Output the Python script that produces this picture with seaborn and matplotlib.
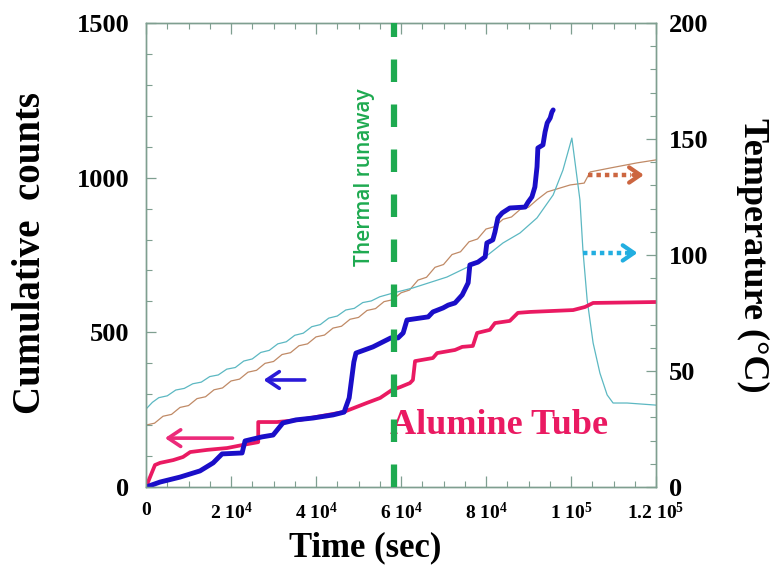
import numpy as np
import pandas as pd
import matplotlib
matplotlib.use("Agg")
import matplotlib.pyplot as plt
import seaborn as sns
from matplotlib.ticker import MultipleLocator

# cumulative counts, sample 1 (blue)
blue_t = [0, 3300, 8000, 12700, 15800, 17900, 22600, 23300, 27300, 29900,
          32200, 35300, 39300, 44000, 46600, 47800, 48900, 49400, 53400, 57600,
          59300, 60500, 61400, 66400, 67500, 69900, 71100, 72700, 74400, 75800,
          76200, 78100, 79800, 80200, 81600, 82100, 82800, 83800, 85600, 89200,
          89900, 90800, 91500, 92000, 92200, 93400, 93900, 94400, 95100, 95500,
          95800]
blue_n = [0, 16, 32, 52, 78, 107, 110, 149, 162, 168,
          207, 217, 223, 233, 242, 288, 404, 433, 453, 482,
          482, 498, 540, 550, 566, 579, 588, 595, 621, 660,
          718, 727, 744, 789, 799, 824, 870, 886, 902, 905,
          921, 938, 970, 1035, 1096, 1106, 1148, 1177, 1193, 1212,
          1219]

# cumulative counts, alumine tube (pink)
pink_t = [0, 940, 2100, 3300, 6400, 8700, 10400, 14400, 19100, 22800, 26400, 26400,
          30800, 36200, 46400, 52000, 55100, 57900, 59800, 62100, 62800, 63300, 67500,
          68500, 72700, 74400, 76900, 77900, 80900, 82100, 85600, 87500, 90400, 100500,
          103300, 105200, 120000]
pink_n = [0, 32, 71, 78, 87, 97, 113, 120, 126, 136, 145, 210,
          210, 217, 242, 272, 288, 314, 323, 336, 346, 407, 417,
          433, 443, 453, 456, 498, 508, 530, 537, 563, 566, 572,
          582, 595, 598]

# temperatures (right axis)
brown_t = [0, 2000, 4000, 6000, 8000, 10000, 12000, 14000, 16000, 18000,
           20000, 22000, 24000, 26000, 28000, 30000, 32000, 34000, 36000, 38000,
           40000, 42000, 44000, 46000, 48000, 50000, 52000, 54000, 56000, 58000,
           60000, 62000, 64000, 66000, 68000, 70000, 72000, 74000, 76000, 78000,
           80000, 82000, 84000, 86000, 88000, 90000, 92000, 94400, 99800, 103100,
           104500, 109200, 115500, 120000]
brown_T = [26.7, 27.5, 30.5, 31.3, 34.3, 35.1, 38.1, 38.9, 41.9, 42.7,
           45.7, 46.5, 49.5, 50.3, 53.3, 54.1, 57.1, 57.9, 60.9, 61.7,
           64.7, 65.5, 68.5, 69.3, 72.3, 73.1, 76.1, 76.9, 79.9, 80.7,
           83.7, 84.9, 89.2, 90.4, 94.7, 95.9, 100.2, 101.4, 105.7, 106.9,
           111.2, 112.2, 115.4, 116.4, 119.6, 120.6, 123.8, 127.2, 130.2, 131.0,
           135.8, 137.5, 139.7, 141.0]

cyan_t = [0, 1500, 3000, 5000, 7000, 9000, 11000, 13000, 15000, 17000,
          19000, 21000, 23000, 25000, 27000, 29000, 31000, 33000, 35000, 37000,
          39000, 41000, 43000, 45000, 47000, 49000, 51000, 53000, 55000, 58100,
          62800, 70800, 78600, 84000, 88000, 92000, 95800, 98100, 100200, 102100,
          102800, 103800, 105200, 106800, 108500, 109900, 113200, 120000]
cyan_T = [33.6, 36.5, 38.5, 39.3, 41.8, 42.5, 44.5, 45.2, 47.6, 48.3,
          50.8, 51.5, 54.3, 55.2, 58.0, 58.9, 61.7, 62.6, 65.4, 66.3,
          69.1, 70.0, 72.8, 73.7, 76.3, 77.0, 79.5, 80.2, 82.0, 83.6,
          85.8, 90.5, 97.4, 105.2, 109.5, 116.0, 125.9, 136.6, 150.4, 123.7,
          102.2, 80.6, 62.1, 49.1, 39.7, 36.2, 36.2, 35.3]

runaway_t = 58300
xticks = [0, 20000, 40000, 60000, 80000, 100000, 120000]
xtick_labels = ["0", "2 10$^4$", "4 10$^4$", "6 10$^4$", "8 10$^4$", "1 10$^5$", "1.2 10$^5$"]

sns.set_style("white")
plt.rcParams["font.family"] = ["Liberation Serif", "DejaVu Serif"]
plt.rcParams["font.weight"] = "bold"
plt.rcParams["text.color"] = "black"
plt.rcParams["axes.labelcolor"] = "black"
plt.rcParams["mathtext.fontset"] = "custom"
plt.rcParams["mathtext.rm"] = "Liberation Serif:bold"
plt.rcParams["mathtext.bf"] = "Liberation Serif:bold"
plt.rcParams["mathtext.it"] = "Liberation Serif:bold"
plt.rcParams["mathtext.default"] = "bf"

spine_c = "#7f9f90"

fig = plt.figure(figsize=(7.78, 5.67), dpi=100)
ax = fig.add_axes([0.1877, 0.1411, 0.6555, 0.8183])
ax2 = ax.twinx()

sns.lineplot(x=brown_t, y=brown_T, ax=ax2, color="#c08a66", lw=0.9, estimator=None, sort=False)
sns.lineplot(x=cyan_t, y=cyan_T, ax=ax2, color="#5cb8c2", lw=0.9, estimator=None, sort=False)
sns.lineplot(x=pink_t, y=pink_n, ax=ax, color="#ea1a62", lw=2.7, estimator=None, sort=False)
sns.lineplot(x=blue_t, y=blue_n, ax=ax, color="#1a0ec8", lw=3.5, estimator=None, sort=False)

ax.set_zorder(ax2.get_zorder() + 1)
ax.patch.set_visible(False)

ax.axvline(runaway_t, color="#1eaa50", lw=4.5, dashes=(3.6, 3.6), zorder=5)
ax.text(51500, 1000, "Thermal runaway", rotation=90, color="#1eaa50", fontsize=15,
        family="Open Sans", fontweight="semibold", ha="center", va="center")
ax.text(57300, 172, "Alumine Tube", color="#ea1a62", fontsize=26, fontweight="bold",
        ha="left", va="baseline")

# axis indicator arrows (left axis)
ax.annotate("", xy=(27000, 346), xytext=(38000, 346),
            arrowprops=dict(arrowstyle="->,head_length=0.9,head_width=0.6", color="#2a1ad8", lw=2.6))
ax.annotate("", xy=(3800, 158), xytext=(21000, 158),
            arrowprops=dict(arrowstyle="->,head_length=0.9,head_width=0.6", color="#ec2a7a", lw=2.6))

# axis indicator arrows (right axis): dotted shaft + solid chevron head
ax2.plot([104000, 114000], [134.5, 134.5], color="#cc6640", lw=3.2, linestyle=(0, (1, 0.9)))
ax2.annotate("", xy=(117800, 134.5), xytext=(114000, 134.5),
             arrowprops=dict(arrowstyle="->,head_length=0.8,head_width=0.55", color="#cc6640", lw=3.0))
ax2.plot([102800, 113000], [100.9, 100.9], color="#22aee0", lw=3.2, linestyle=(0, (1, 0.9)))
ax2.annotate("", xy=(116300, 100.9), xytext=(112500, 100.9),
             arrowprops=dict(arrowstyle="->,head_length=0.8,head_width=0.55", color="#22aee0", lw=3.0))

ax.set_xlim(0, 120000)
ax.set_ylim(0, 1500)
ax2.set_ylim(0, 200)

ax.set_xticks(xticks)
ax.set_xticklabels(xtick_labels)
ax.xaxis.set_minor_locator(MultipleLocator(5000))
ax.yaxis.set_major_locator(MultipleLocator(500))
ax.yaxis.set_minor_locator(MultipleLocator(100))
ax2.yaxis.set_major_locator(MultipleLocator(50))
ax2.yaxis.set_minor_locator(MultipleLocator(10))

ax.tick_params(axis="x", which="both", direction="in", top=True, bottom=True, colors=spine_c,
               labelcolor="black", labelsize=14, pad=11)
ax.tick_params(axis="x", which="major", length=8, width=0.9)
ax.tick_params(axis="x", which="minor", length=4, width=0.8)
ax.tick_params(axis="y", which="both", direction="in", left=True, right=False, colors=spine_c,
               labelcolor="black", labelsize=19, pad=12)
ax.tick_params(axis="y", which="major", length=7, width=0.9)
ax.tick_params(axis="y", which="minor", length=4, width=0.8)
ax2.tick_params(axis="y", which="both", direction="in", colors=spine_c, labelcolor="black",
                labelsize=19, pad=9)
ax2.tick_params(axis="y", which="major", length=7, width=0.9)
ax2.tick_params(axis="y", which="minor", length=4, width=0.8)

for a in (ax, ax2):
    for s in a.spines.values():
        s.set_color(spine_c)
        s.set_linewidth(1.0)

ax.set_xlabel("Time (sec)", fontsize=25, fontweight="bold")
ax.xaxis.set_label_coords(0.43, -0.095)
ax.set_ylabel("Cumulative  counts", fontsize=28, fontweight="bold")
ax.yaxis.set_label_coords(-0.19, 0.505)
ax2.set_ylabel("Temperature (°C)", fontsize=26, fontweight="bold", rotation=270, labelpad=44)

fig.savefig("out.png", dpi=100)
